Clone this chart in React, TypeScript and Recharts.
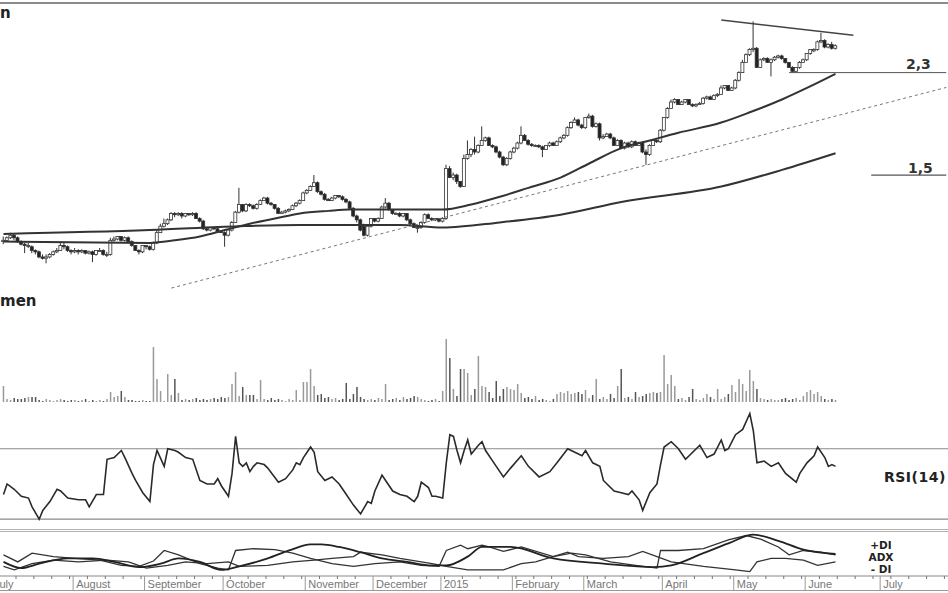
import React from 'react';
import { ComposedChart, Bar, Line, XAxis, YAxis, ReferenceLine, Cell } from 'recharts';

// trading-day index 0 = 1 July 2014; candles start on day 3
const FIRST_DAY = 3;
const DAYS = 268;
const CHART_W = 957;
const CHART_LEFT = -9;
const BAND = CHART_W / DAYS;

const monthStarts = [0, 23, 43, 65, 88, 107, 126, 146, 166, 188, 208, 228, 249];
const monthNames = ['July', 'August', 'September', 'October', 'November', 'December', '2015', 'February', 'March', 'April', 'May', 'June', 'July'];

const opens = [
  0.98, 0.99, 1.01, 1.03, 1.01, 0.98, 0.96, 0.95, 0.94, 0.91,
  0.90, 0.86, 0.85, 0.86, 0.88, 0.90, 0.91, 0.95, 0.94, 0.91,
  0.90, 0.91, 0.90, 0.91, 0.89, 0.90, 0.88, 0.91, 0.91, 0.88,
  0.88, 0.99, 1.00, 1.02, 0.99, 1.01, 0.98, 0.95, 0.91, 0.90,
  0.95, 0.94, 0.92, 0.97, 1.05, 1.10, 1.12, 1.15, 1.20, 1.19,
  1.20, 1.18, 1.20, 1.19, 1.20, 1.16, 1.14, 1.08, 1.07, 1.09,
  1.08, 1.06, 1.05, 1.03, 1.07, 1.13, 1.21, 1.27, 1.22, 1.27,
  1.26, 1.24, 1.27, 1.30, 1.32, 1.28, 1.27, 1.24, 1.20, 1.21,
  1.22, 1.23, 1.26, 1.28, 1.30, 1.36, 1.38, 1.41, 1.44, 1.37,
  1.35, 1.31, 1.30, 1.32, 1.34, 1.33, 1.31, 1.29, 1.24, 1.18,
  1.15, 1.10, 1.03, 1.10, 1.16, 1.14, 1.16, 1.25, 1.28, 1.23,
  1.20, 1.20, 1.18, 1.20, 1.15, 1.12, 1.09, 1.09, 1.13, 1.19,
  1.16, 1.15, 1.16, 1.14, 1.16, 1.55, 1.48, 1.50, 1.45, 1.41,
  1.63, 1.66, 1.70, 1.68, 1.73, 1.77, 1.79, 1.73, 1.72, 1.68,
  1.64, 1.58, 1.63, 1.68, 1.71, 1.75, 1.81, 1.77, 1.74, 1.73,
  1.73, 1.72, 1.70, 1.73, 1.75, 1.73, 1.76, 1.79, 1.81, 1.87,
  1.91, 1.93, 1.89, 1.87, 1.95, 1.96, 1.88, 1.90, 1.79, 1.80,
  1.82, 1.79, 1.73, 1.77, 1.71, 1.75, 1.72, 1.76, 1.73, 1.75,
  1.68, 1.66, 1.73, 1.77, 1.76, 1.85, 1.95, 2.02, 2.07, 2.09,
  2.05, 2.07, 2.09, 2.05, 2.04, 2.05, 2.06, 2.10, 2.11, 2.09,
  2.12, 2.13, 2.18, 2.20, 2.16, 2.18, 2.24, 2.30, 2.38, 2.44,
  2.48, 2.49, 2.34, 2.40, 2.41, 2.38, 2.40, 2.42, 2.43, 2.41,
  2.38, 2.34, 2.31, 2.34, 2.38, 2.40, 2.45, 2.47, 2.48, 2.54,
  2.55, 2.50, 2.52, 2.49,
];

const closes = [
  0.99, 1.01, 1.03, 1.01, 0.98, 0.96, 0.95, 0.95, 0.91, 0.90,
  0.86, 0.85, 0.86, 0.88, 0.90, 0.91, 0.95, 0.94, 0.91, 0.90,
  0.91, 0.90, 0.91, 0.89, 0.90, 0.88, 0.91, 0.91, 0.88, 0.88,
  0.99, 1.00, 1.02, 0.99, 1.01, 0.98, 0.95, 0.91, 0.90, 0.95,
  0.94, 0.92, 0.97, 1.05, 1.10, 1.12, 1.15, 1.20, 1.19, 1.20,
  1.18, 1.20, 1.19, 1.20, 1.16, 1.14, 1.08, 1.07, 1.09, 1.08,
  1.06, 1.05, 1.03, 1.07, 1.13, 1.21, 1.27, 1.22, 1.27, 1.26,
  1.24, 1.27, 1.30, 1.32, 1.28, 1.27, 1.24, 1.20, 1.21, 1.22,
  1.23, 1.26, 1.28, 1.30, 1.36, 1.38, 1.41, 1.44, 1.37, 1.35,
  1.31, 1.30, 1.32, 1.34, 1.33, 1.31, 1.29, 1.24, 1.18, 1.15,
  1.07, 1.03, 1.10, 1.16, 1.14, 1.16, 1.25, 1.28, 1.23, 1.20,
  1.20, 1.18, 1.20, 1.15, 1.12, 1.09, 1.09, 1.13, 1.19, 1.16,
  1.15, 1.16, 1.14, 1.16, 1.55, 1.48, 1.50, 1.45, 1.41, 1.63,
  1.66, 1.70, 1.68, 1.73, 1.77, 1.79, 1.73, 1.72, 1.68, 1.64,
  1.58, 1.63, 1.68, 1.71, 1.75, 1.81, 1.77, 1.74, 1.73, 1.73,
  1.72, 1.70, 1.73, 1.75, 1.73, 1.76, 1.79, 1.81, 1.87, 1.91,
  1.93, 1.89, 1.87, 1.95, 1.96, 1.88, 1.90, 1.79, 1.80, 1.82,
  1.79, 1.73, 1.77, 1.71, 1.75, 1.72, 1.76, 1.73, 1.75, 1.68,
  1.66, 1.73, 1.77, 1.76, 1.85, 1.95, 2.02, 2.07, 2.09, 2.05,
  2.07, 2.09, 2.05, 2.04, 2.05, 2.06, 2.10, 2.11, 2.09, 2.12,
  2.13, 2.18, 2.20, 2.16, 2.18, 2.24, 2.30, 2.38, 2.44, 2.48,
  2.49, 2.34, 2.40, 2.41, 2.38, 2.40, 2.42, 2.43, 2.41, 2.38,
  2.34, 2.31, 2.34, 2.38, 2.40, 2.45, 2.48, 2.48, 2.54, 2.55,
  2.50, 2.52, 2.49, 2.51,
];

const highs = [
  1.02, 1.02, 1.05, 1.04, 1.02, 0.99, 0.97, 0.97, 0.95, 0.92,
  0.91, 0.88, 0.88, 0.89, 0.91, 0.93, 0.98, 0.97, 0.95, 0.92,
  0.93, 0.92, 0.92, 0.91, 0.91, 0.91, 0.91, 0.93, 0.92, 0.90,
  1.01, 1.02, 1.02, 1.02, 1.02, 1.02, 0.99, 0.95, 0.92, 0.95,
  0.95, 0.95, 0.98, 1.07, 1.12, 1.16, 1.16, 1.21, 1.21, 1.21,
  1.21, 1.20, 1.20, 1.21, 1.21, 1.17, 1.15, 1.09, 1.09, 1.09,
  1.09, 1.07, 1.06, 1.08, 1.14, 1.22, 1.40, 1.27, 1.28, 1.28,
  1.27, 1.28, 1.31, 1.33, 1.33, 1.29, 1.27, 1.25, 1.22, 1.23,
  1.24, 1.27, 1.29, 1.31, 1.37, 1.39, 1.42, 1.50, 1.45, 1.38,
  1.36, 1.32, 1.33, 1.34, 1.34, 1.34, 1.32, 1.30, 1.25, 1.19,
  1.16, 1.12, 1.11, 1.16, 1.16, 1.17, 1.26, 1.32, 1.29, 1.23,
  1.21, 1.21, 1.20, 1.20, 1.16, 1.13, 1.11, 1.14, 1.20, 1.20,
  1.17, 1.16, 1.16, 1.17, 1.58, 1.57, 1.52, 1.51, 1.45, 1.66,
  1.77, 1.71, 1.80, 1.74, 1.88, 1.80, 1.80, 1.74, 1.73, 1.69,
  1.65, 1.64, 1.69, 1.72, 1.76, 1.88, 1.82, 1.78, 1.75, 1.74,
  1.74, 1.73, 1.73, 1.76, 1.76, 1.77, 1.80, 1.82, 1.88, 1.92,
  1.95, 1.94, 1.90, 1.95, 1.98, 1.97, 1.91, 1.91, 1.82, 1.83,
  1.83, 1.80, 1.78, 1.78, 1.76, 1.76, 1.77, 1.77, 1.76, 1.76,
  1.70, 1.74, 1.78, 1.78, 1.86, 1.95, 2.03, 2.09, 2.10, 2.09,
  2.08, 2.09, 2.09, 2.06, 2.06, 2.07, 2.11, 2.12, 2.12, 2.13,
  2.14, 2.20, 2.20, 2.20, 2.19, 2.25, 2.31, 2.40, 2.45, 2.49,
  2.70, 2.50, 2.41, 2.42, 2.42, 2.41, 2.43, 2.44, 2.44, 2.41,
  2.38, 2.35, 2.34, 2.39, 2.41, 2.45, 2.48, 2.49, 2.55, 2.61,
  2.56, 2.53, 2.54, 2.52,
];

const lows = [
  0.96, 0.98, 1.00, 0.99, 0.97, 0.95, 0.89, 0.93, 0.89, 0.88,
  0.85, 0.84, 0.81, 0.85, 0.87, 0.89, 0.91, 0.92, 0.90, 0.88,
  0.89, 0.88, 0.89, 0.88, 0.88, 0.82, 0.87, 0.90, 0.87, 0.86,
  0.87, 0.98, 0.99, 0.98, 0.98, 0.98, 0.94, 0.91, 0.88, 0.89,
  0.92, 0.91, 0.91, 0.96, 1.05, 1.09, 1.11, 1.14, 1.17, 1.18,
  1.16, 1.17, 1.18, 1.18, 1.16, 1.13, 1.07, 1.06, 1.06, 1.07,
  1.05, 1.05, 0.94, 1.02, 1.06, 1.13, 1.20, 1.21, 1.21, 1.25,
  1.23, 1.23, 1.27, 1.30, 1.27, 1.26, 1.23, 1.20, 1.20, 1.20,
  1.21, 1.23, 1.25, 1.27, 1.30, 1.35, 1.38, 1.41, 1.36, 1.34,
  1.30, 1.30, 1.30, 1.31, 1.32, 1.30, 1.28, 1.23, 1.17, 1.13,
  1.06, 1.02, 1.02, 1.09, 1.13, 1.13, 1.16, 1.24, 1.22, 1.19,
  1.19, 1.17, 1.17, 1.14, 1.11, 1.09, 1.05, 1.08, 1.12, 1.16,
  1.14, 1.14, 1.13, 1.13, 1.15, 1.48, 1.46, 1.43, 1.40, 1.41,
  1.62, 1.64, 1.66, 1.67, 1.73, 1.76, 1.73, 1.71, 1.67, 1.63,
  1.57, 1.57, 1.62, 1.67, 1.70, 1.74, 1.77, 1.73, 1.72, 1.72,
  1.71, 1.64, 1.70, 1.72, 1.73, 1.73, 1.75, 1.78, 1.80, 1.86,
  1.91, 1.88, 1.86, 1.86, 1.94, 1.87, 1.87, 1.77, 1.78, 1.80,
  1.78, 1.73, 1.73, 1.70, 1.70, 1.71, 1.71, 1.73, 1.73, 1.67,
  1.58, 1.65, 1.73, 1.75, 1.75, 1.84, 1.94, 2.02, 2.06, 2.05,
  2.05, 2.06, 2.05, 2.03, 2.03, 2.05, 2.05, 2.09, 2.09, 2.09,
  2.11, 2.13, 2.17, 2.16, 2.16, 2.17, 2.23, 2.30, 2.38, 2.43,
  2.46, 2.34, 2.34, 2.39, 2.38, 2.27, 2.39, 2.41, 2.40, 2.37,
  2.34, 2.30, 2.30, 2.33, 2.38, 2.39, 2.44, 2.46, 2.47, 2.53,
  2.49, 2.49, 2.48, 2.48,
];

const volumes = [
  16, 3, 2, 4, 3, 3, 4, 5, 5, 5,
  2, 1, 3, 2, 1, 2, 3, 2, 1, 2,
  2, 1, 2, 3, 1, 2, 1, 2, 1, 3,
  10, 5, 6, 11, 5, 2, 2, 1, 1, 2,
  1, 1, 55, 23, 11, 1, 28, 7, 23, 9,
  2, 3, 2, 3, 4, 2, 3, 2, 3, 4,
  3, 5, 4, 5, 18, 30, 6, 15, 7, 7,
  7, 3, 22, 3, 2, 4, 2, 3, 2, 1,
  3, 2, 12, 2, 20, 20, 33, 16, 7, 8,
  4, 5, 3, 4, 2, 3, 19, 3, 8, 15,
  5, 3, 2, 3, 2, 4, 3, 18, 2, 3,
  4, 2, 5, 3, 4, 6, 5, 3, 2, 1,
  2, 3, 1, 11, 63, 44, 13, 6, 33, 33,
  29, 7, 13, 46, 16, 15, 10, 4, 21, 6,
  13, 15, 13, 12, 18, 9, 4, 5, 3, 6,
  2, 3, 2, 1, 3, 8, 10, 9, 11, 8,
  9, 10, 8, 12, 4, 7, 23, 3, 5, 3,
  8, 4, 16, 33, 4, 5, 3, 10, 5, 6,
  8, 9, 10, 9, 10, 47, 18, 27, 16, 3,
  4, 2, 5, 13, 3, 2, 4, 8, 5, 3,
  13, 3, 5, 8, 17, 10, 23, 18, 11, 32,
  21, 13, 4, 3, 2, 3, 2, 2, 3, 4,
  2, 3, 4, 2, 6, 10, 12, 8, 10, 6,
  3, 2, 3, 2,
];

// moving averages, read at their turning points
const maFastDays = [3, 44, 51, 58, 65, 72, 79, 86, 94, 100, 126, 134, 142, 150, 159, 167, 176, 184, 192, 204, 212, 221, 228, 236];
const maFastValues = [0.98, 0.97, 0.99, 1.02, 1.07, 1.12, 1.16, 1.2, 1.22, 1.23, 1.23, 1.27, 1.33, 1.4, 1.48, 1.59, 1.71, 1.77, 1.83, 1.91, 1.99, 2.09, 2.18, 2.29];
const maSlowDays = [3, 44, 69, 86, 114, 126, 142, 159, 176, 204, 221, 236];
const maSlowValues = [1.04, 1.07, 1.1, 1.11, 1.11, 1.09, 1.13, 1.19, 1.29, 1.41, 1.54, 1.67];

const rsiDays = [
  3, 4, 6, 8, 10, 11, 13, 14, 16, 18, 19, 21, 24, 26, 27, 29, 31, 32, 34, 36,
  37, 39, 40, 42, 44, 45, 46, 48, 49, 51, 52, 54, 56, 58, 60, 62, 63, 64, 66, 67,
  68, 69, 70, 71, 72, 73, 74, 76, 77, 80, 82, 84, 85, 86, 87, 89, 90, 91, 93, 95,
  97, 99, 101, 103, 105, 106, 107, 109, 110, 112, 114, 116, 118, 119, 120, 122, 123, 124, 126, 127,
  128, 129, 130, 131, 132, 133, 134, 136, 137, 138, 140, 143, 145, 148, 150, 153, 156, 158, 161, 163,
  165, 166, 168, 170, 171, 172, 174, 176, 178, 179, 181, 182, 184, 186, 187, 188, 190, 192, 194, 198,
  200, 202, 204, 205, 206, 207, 208, 210, 212, 213, 214, 216, 218, 220, 222, 225, 226, 228, 230, 231,
  233, 234, 235, 236,
];
const rsiValues = [
  44, 50, 47, 43, 42, 37, 30, 35, 40, 47, 46, 42, 41, 41, 37, 44, 44, 64, 65, 69,
  65, 56, 52, 45, 40, 61, 69, 60, 70, 69, 68, 65, 64, 52, 50, 50, 53, 49, 43, 56,
  77, 62, 60, 62, 57, 60, 62, 61, 59, 51, 53, 58, 62, 61, 65, 71, 68, 57, 52, 54,
  50, 44, 38, 33, 40, 39, 46, 55, 52, 46, 44, 43, 40, 43, 51, 48, 43, 43, 42, 62,
  78, 77, 69, 62, 69, 75, 67, 72, 74, 69, 63, 54, 59, 66, 60, 54, 57, 62, 70, 68,
  66, 69, 62, 60, 52, 50, 46, 45, 44, 46, 41, 35, 45, 50, 61, 71, 74, 70, 64, 72,
  65, 67, 75, 69, 70, 74, 78, 81, 90, 80, 62, 63, 60, 62, 56, 51, 56, 62, 66, 71,
  65, 60, 61, 60,
];

const adxDays = [3, 8, 13, 21, 28, 34, 41, 47, 52, 58, 64, 69, 77, 83, 89, 92, 97, 103, 109, 116, 123, 127, 133, 137, 145, 157, 171, 185, 190, 199, 206, 213, 220, 227, 236];
const adxValues = [16, 9, 14, 20, 20, 16, 10, 14, 20, 16, 7, 11, 20, 29, 36, 36, 33, 27, 20, 16, 12, 12, 22, 33, 33, 20, 14, 10, 12, 26, 37, 47, 40, 30, 25];
const plusDiDays = [3, 7, 11, 17, 23, 30, 36, 41, 45, 48, 52, 58, 63, 66, 68, 73, 79, 84, 89, 95, 101, 107, 114, 120, 125, 127, 131, 133, 137, 139, 143, 148, 157, 162, 166, 173, 180, 186, 187, 192, 199, 206, 211, 215, 220, 223, 227, 232, 236];
const plusDiValues = [24, 16, 26, 22, 20, 18, 12, 11, 17, 29, 24, 14, 9, 7, 29, 31, 30, 26, 20, 14, 11, 14, 16, 12, 11, 29, 35, 31, 35, 33, 28, 33, 22, 26, 24, 16, 12, 9, 29, 29, 31, 41, 46, 42, 33, 24, 29, 27, 24];
const minusDiDays = [3, 6, 11, 17, 24, 32, 38, 43, 49, 54, 60, 66, 69, 77, 84, 90, 95, 101, 103, 109, 114, 120, 123, 127, 133, 137, 143, 148, 152, 161, 164, 171, 178, 182, 186, 190, 199, 208, 212, 214, 218, 222, 227, 231, 236];
const minusDiValues = [11, 7, 14, 18, 16, 18, 16, 9, 12, 16, 14, 16, 11, 12, 16, 18, 20, 22, 27, 24, 20, 16, 14, 11, 7, 7, 7, 14, 16, 27, 22, 20, 22, 28, 22, 16, 11, 7, 5, 16, 20, 20, 18, 12, 16];

// hand-drawn lines on the price panel: [day, price]
const trendDashed = [[50, 0.617], [267, 2.184]];
const trendTop = [[204, 2.711], [241, 2.592]];
const level23 = [[223, 2.3], [267, 2.3]];
const level15 = [[246, 1.5], [267, 1.5]];

const toMap = (days: number[], values: number[]) => {
  const m = new Map<number, number>();
  days.forEach((d, k) => m.set(d, values[k]));
  return m;
};

const fastMap = toMap(maFastDays, maFastValues);
const slowMap = toMap(maSlowDays, maSlowValues);
const rsiMap = toMap(rsiDays, rsiValues);
const adxMap = toMap(adxDays, adxValues);
const pdiMap = toMap(plusDiDays, plusDiValues);
const mdiMap = toMap(minusDiDays, minusDiValues);

const rows = Array.from({ length: DAYS }, (_, i) => {
  const k = i - FIRST_DAY;
  const has = k >= 0 && k < closes.length;
  return {
    i,
    o: has ? opens[k] : null,
    h: has ? highs[k] : null,
    l: has ? lows[k] : null,
    c: has ? closes[k] : null,
    range: has ? [lows[k], highs[k]] : null,
    vol: has ? volumes[k] : null,
    maFast: fastMap.get(i) ?? null,
    maSlow: slowMap.get(i) ?? null,
    rsi: rsiMap.get(i) ?? null,
    adx: adxMap.get(i) ?? null,
    pdi: pdiMap.get(i) ?? null,
    mdi: mdiMap.get(i) ?? null,
  };
});

const seg = (pts: number[][]) => pts.map(([x, y]) => ({ x, y }));

const Candle = (props: any) => {
  const { x, y, width, height, payload } = props;
  if (!payload || payload.o == null) return <g />;
  const { o, h, l, c } = payload;
  const top = Math.min(y, y + height);
  const hh = Math.abs(height);
  const py = (p: number) => (h === l ? top : top + ((h - p) / (h - l)) * hh);
  const cx = x + width / 2;
  const yo = py(o);
  const yc = py(c);
  const up = c >= o;
  return (
    <g>
      <line x1={cx} x2={cx} y1={top} y2={top + hh} stroke="#333" strokeWidth={1} />
      <rect
        x={x}
        y={Math.min(yo, yc)}
        width={width}
        height={Math.max(1, Math.abs(yo - yc))}
        fill={up ? '#fff' : '#222'}
        stroke="#333"
        strokeWidth={0.8}
      />
    </g>
  );
};

const AXIS_TOP = 44;
const axisTicks = Array.from({ length: DAYS }, (_, i) => i).filter(
  (i) => monthStarts.includes(i) || i % 5 === 2
);

const AxisTick = (props: any) => {
  const { x, payload } = props;
  const left = x - BAND / 2;
  const m = monthStarts.indexOf(payload.value);
  if (m < 0) {
    return <line x1={left} x2={left} y1={AXIS_TOP} y2={AXIS_TOP + 3} stroke="#777" strokeWidth={1} />;
  }
  return (
    <g>
      <line x1={left} x2={left} y1={AXIS_TOP} y2={AXIS_TOP + 15} stroke="#999" strokeWidth={1} />
      <text x={left + 3} y={AXIS_TOP + 12} fontSize={11} fill="#777" fontFamily="Liberation Sans, Arial, sans-serif">
        {monthNames[m]}
      </text>
    </g>
  );
};

const xAxisHidden = <XAxis dataKey="i" scale="band" hide />;

const label = (text: string, left: number, top: number, size = 14, extra: React.CSSProperties = {}) => (
  <div
    style={{
      position: 'absolute',
      left,
      top,
      fontSize: size,
      fontWeight: 'bold',
      color: '#222',
      lineHeight: 1,
      whiteSpace: 'nowrap',
      ...extra,
    }}
  >
    {text}
  </div>
);

export default function App() {
  const chartStyle = (top: number): React.CSSProperties => ({ position: 'absolute', left: CHART_LEFT, top });
  return (
    <div
      style={{
        position: 'absolute',
        left: 0,
        top: 0,
        width: 948,
        height: 593,
        overflow: 'hidden',
        background: '#fff',
        fontFamily: 'DejaVu Sans, sans-serif',
      }}
    >
      <div style={{ position: 'absolute', left: 0, top: 2, width: 948, height: 2, background: '#8a8a8a' }} />

      {/* price */}
      <div style={chartStyle(0)}>
        <ComposedChart width={CHART_W} height={290} data={rows} margin={{ top: 5, right: 0, bottom: 0, left: 0 }}>
          {xAxisHidden}
          <YAxis hide domain={[0.602, 2.828]} allowDataOverflow />
          <Bar dataKey="range" barSize={3} shape={(p: any) => <Candle {...p} />} isAnimationActive={false} />
          <Line dataKey="maSlow" type="monotone" stroke="#333" strokeWidth={2} dot={false} connectNulls isAnimationActive={false} />
          <Line dataKey="maFast" type="monotone" stroke="#333" strokeWidth={2} dot={false} connectNulls isAnimationActive={false} />
          <ReferenceLine segment={seg(trendDashed)} stroke="#777" strokeWidth={1} strokeDasharray="3 3" />
          <ReferenceLine segment={seg(trendTop)} stroke="#444" strokeWidth={1.5} />
          <ReferenceLine segment={seg(level23)} stroke="#555" strokeWidth={1} />
          <ReferenceLine segment={seg(level15)} stroke="#555" strokeWidth={1.2} />
        </ComposedChart>
      </div>

      {/* volume */}
      <div style={chartStyle(332)}>
        <ComposedChart width={CHART_W} height={70} data={rows} margin={{ top: 0, right: 0, bottom: 0, left: 0 }}>
          {xAxisHidden}
          <YAxis hide domain={[0, 70]} allowDataOverflow />
          <Bar dataKey="vol" barSize={1.5} isAnimationActive={false}>
            {rows.map((r) => (
              <Cell key={r.i} fill={r.c != null && r.o != null && r.c < r.o ? '#555' : '#999'} />
            ))}
          </Bar>
        </ComposedChart>
      </div>

      {/* RSI */}
      <div style={chartStyle(410)}>
        <ComposedChart width={CHART_W} height={118} data={rows} margin={{ top: 0, right: 0, bottom: 0, left: 0 }}>
          {xAxisHidden}
          <YAxis hide domain={[25, 92]} allowDataOverflow />
          <ReferenceLine y={70} stroke="#8a8a8a" strokeWidth={1.2} />
          <ReferenceLine y={30} stroke="#8a8a8a" strokeWidth={1.2} />
          <Line dataKey="rsi" type="linear" stroke="#2a2a2a" strokeWidth={1.6} dot={false} connectNulls isAnimationActive={false} />
        </ComposedChart>
      </div>

      <div style={{ position: 'absolute', left: 0, top: 529, width: 948, height: 1, background: '#b0b0b0' }} />
      <div style={{ position: 'absolute', left: 0, top: 531, width: 948, height: 1, background: '#b0b0b0' }} />

      {/* DMI + time axis */}
      <div style={chartStyle(532)}>
        <ComposedChart width={CHART_W} height={61} data={rows} margin={{ top: 0, right: 0, bottom: 0, left: 0 }}>
          <XAxis
            dataKey="i"
            scale="band"
            height={17}
            ticks={axisTicks}
            interval={0}
            tickLine={false}
            axisLine={{ stroke: '#888' }}
            tick={(p: any) => <AxisTick {...p} />}
          />
          <YAxis hide domain={[0, 50]} allowDataOverflow />
          <Line dataKey="mdi" type="linear" stroke="#333" strokeWidth={1.3} dot={false} connectNulls isAnimationActive={false} />
          <Line dataKey="pdi" type="linear" stroke="#333" strokeWidth={1.3} dot={false} connectNulls isAnimationActive={false} />
          <Line dataKey="adx" type="monotone" stroke="#222" strokeWidth={1.8} dot={false} connectNulls isAnimationActive={false} />
        </ComposedChart>
      </div>
      <div style={{ position: 'absolute', left: 0, top: 590, width: 948, height: 1, background: '#999' }} />

      {label('n', 0, 6, 15)}
      {label('men', 0, 294, 15)}
      {label('2,3', 906, 57, 14, { color: '#333' })}
      {label('1,5', 908, 161, 14, { color: '#333' })}
      {label('RSI(14)', 884, 470, 14, { letterSpacing: 0.5 })}
      <div
        style={{
          position: 'absolute',
          left: 858,
          top: 539,
          width: 46,
          textAlign: 'center',
          fontSize: 10.5,
          fontWeight: 'bold',
          lineHeight: '12px',
          color: '#222',
        }}
      >
        <div>+DI</div>
        <div>ADX</div>
        <div>- DI</div>
      </div>
    </div>
  );
}
